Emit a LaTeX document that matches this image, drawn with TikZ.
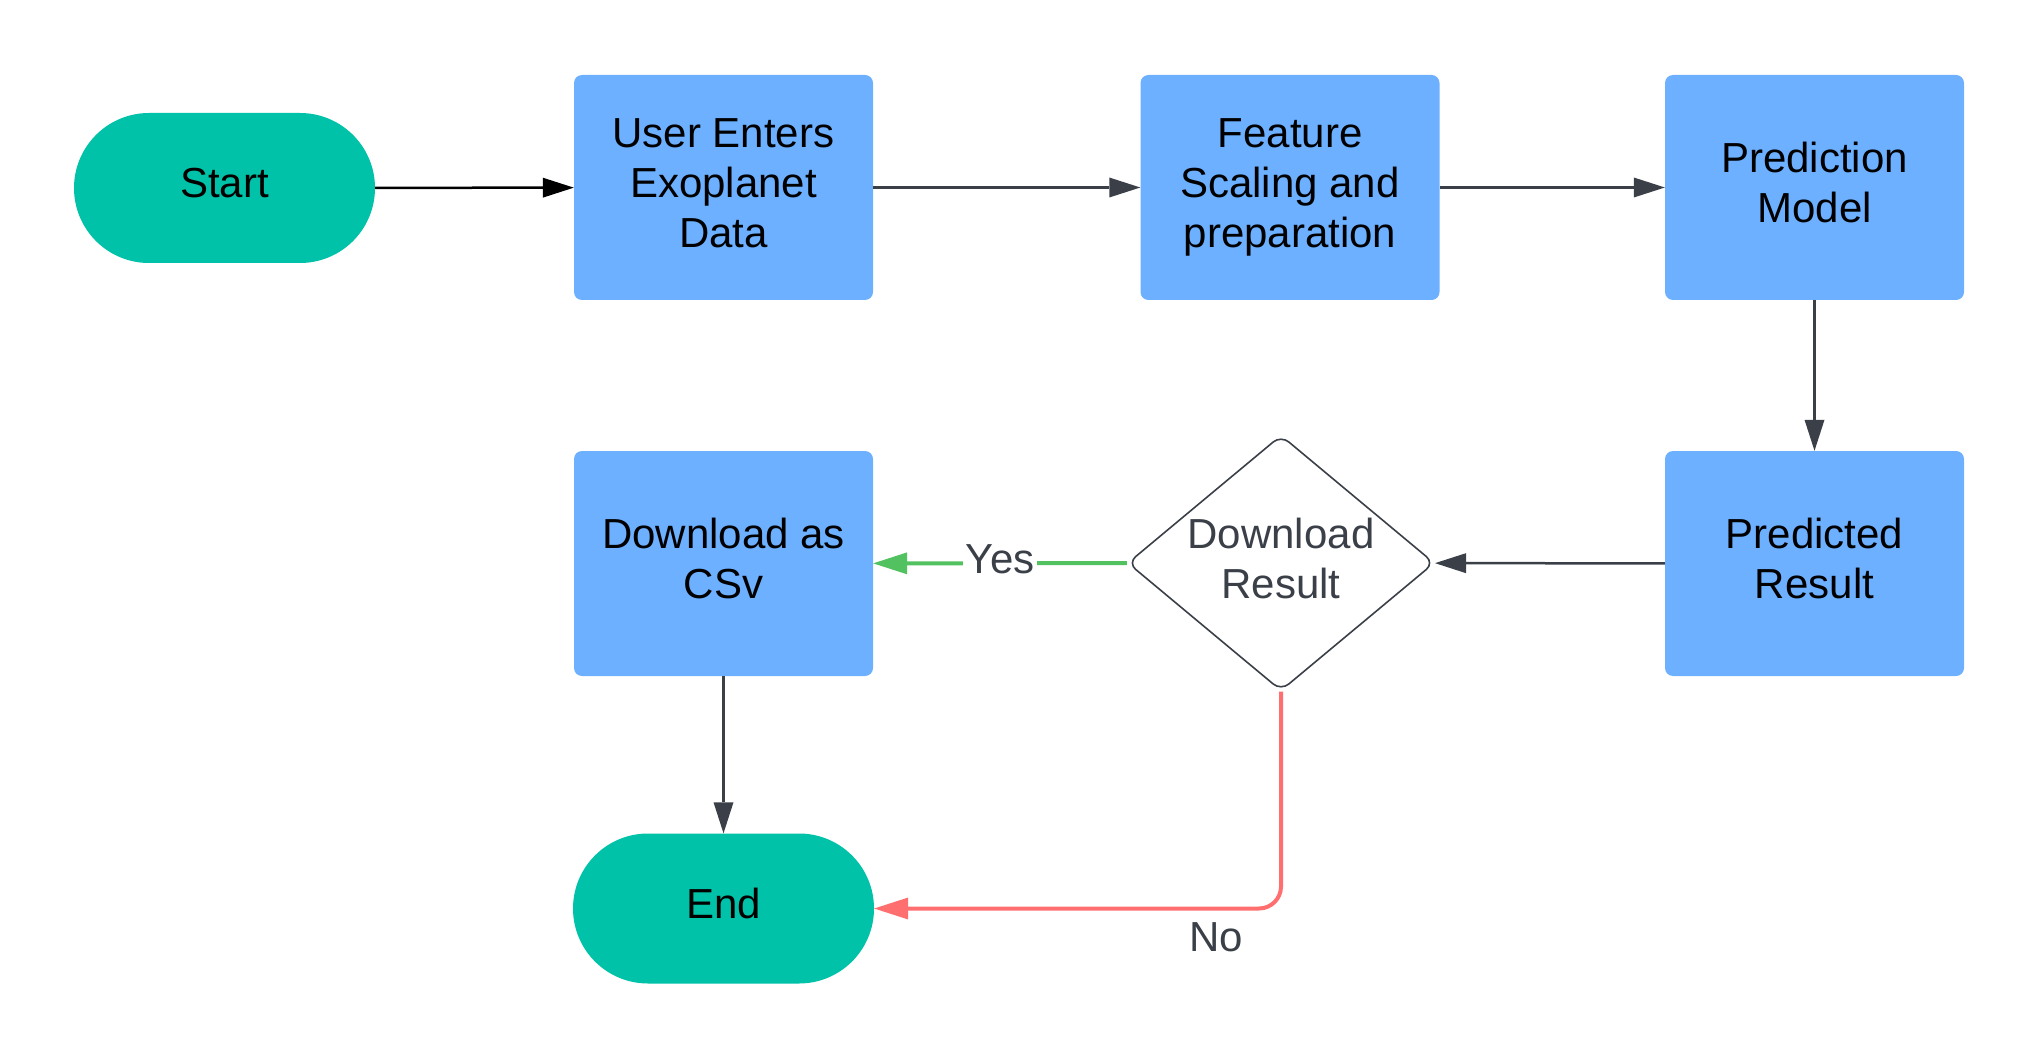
\documentclass[tikz,border=0pt]{standalone}
\usepackage{fontspec}
\setmainfont{Liberation Sans}
\usetikzlibrary{shapes.geometric,arrows.meta}
\definecolor{teal}{HTML}{00C2A8}
\definecolor{boxblue}{HTML}{6CB0FF}
\definecolor{dgray}{HTML}{3A3F48}
\definecolor{ygreen}{HTML}{52C15F}
\definecolor{nred}{HTML}{FF6F6F}
\newcommand{\mlines}[1]{\begin{tabular}{@{}c@{}}#1\end{tabular}}
\begin{document}
\begin{tikzpicture}[x=1pt,y=-1pt,
  every node/.style={font=\fontsize{42}{50}\selectfont},
  term/.style={fill=teal, rounded corners=75pt, minimum width=301pt, minimum height=150pt, inner sep=0pt, align=center},
  proc/.style={fill=boxblue, rounded corners=8pt, minimum width=299pt, minimum height=225pt, inner sep=0pt, align=center},
  dec/.style={diamond, aspect=1.2, draw=dgray, line width=1.6pt, rounded corners=10pt, minimum width=304pt, minimum height=252pt, inner sep=0pt, align=center, text=dgray},
  conn/.style={line width=2.5pt, draw=dgray, -{Triangle[length=31pt,width=20pt,line width=0pt]}},
  thick conn/.style={line width=4pt, -{Triangle[length=34pt,width=22pt,line width=0pt]}},
  lbl/.style={text=dgray, fill=white, inner sep=3pt}
]
\useasboundingbox (0,0) rectangle (2040,1059);
\node[term] (start) at (224.5,188) {\mlines{Start}};
\node[proc] (user) at (723.5,187.5) {\mlines{User Enters\\Exoplanet\\Data}};
\node[proc] (feat) at (1290,187.5) {\mlines{Feature\\Scaling and\\preparation}};
\node[proc] (pred) at (1814.5,187.5) {\mlines{Prediction\\Model}};
\node[proc] (res) at (1814.5,563.5) {\mlines{Predicted\\Result}};
\node[dec] (dl) at (1281,563) {\mlines{Download\\Result}};
\node[proc] (csv) at (723.5,563.5) {\mlines{Download as\\CSv}};
\node[term] (end) at (723.5,908.5) {\mlines{End}};

\draw[conn, draw=black] (start) -- (user);
\draw[conn] (user) -- (feat);
\draw[conn] (feat) -- (pred);
\draw[conn] (pred) -- (res);
\draw[conn] (res) -- (dl);
\draw[thick conn, draw=ygreen] (dl) -- node[lbl] {\mlines{Yes}} (csv);
\draw[conn] (csv) -- (end);
\draw[thick conn, draw=nred, rounded corners=22pt] (dl.south) |- (end.east);
\node[text=dgray] (no) at (1216,937) {No};
\end{tikzpicture}
\end{document}
